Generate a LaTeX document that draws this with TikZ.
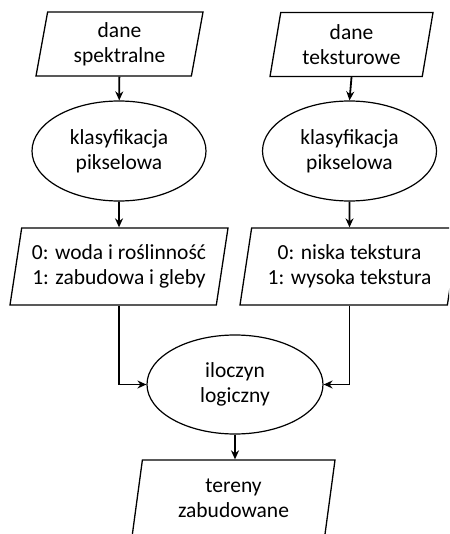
\documentclass[tikz,border=0pt]{standalone}
\usepackage{fontspec}
\setmainfont{Carlito}
\usetikzlibrary{shapes.geometric,arrows.meta}

\begin{document}
\begin{tikzpicture}[x=1pt,y=1pt,
    every node/.style={font=\fontsize{21.5}{25}\selectfont, align=center, inner sep=0pt},
    dane/.style={trapezium, trapezium left angle=75, trapezium right angle=105,
        trapezium stretches body, draw, line width=1.3pt},
    proces/.style={ellipse, draw, line width=1.2pt, minimum width=174pt, minimum height=100pt},
    strz/.style={-{Stealth[length=9pt,width=8pt]}, line width=1.8pt}]
    \useasboundingbox (0,0) rectangle (449,-534);
    \clip (0,0) rectangle (449,-534);
    \node [dane, minimum width=167pt, minimum height=64pt] (spektr) at (119.5,-44) {dane\\spektralne};
    \node [dane, minimum width=163pt, minimum height=64pt] (tekst) at (351.5,-44.5) {dane\\teksturowe};
    \node [proces] (klas1) at (119,-151) {klasyfikacja\\pikselowa};
    \node [proces] (klas2) at (349.5,-151) {klasyfikacja\\pikselowa};
    \node [dane, minimum width=218pt, minimum height=77pt] (wyn1) at (119,-266.5) {0: woda i roślinność\\1: zabudowa i gleby};
    \node [dane, minimum width=219pt, minimum height=77pt] (wyn2) at (349.5,-266.5) {0: niska tekstura\\1: wysoka tekstura};
    \node [proces, minimum width=176pt, minimum height=99pt] (iloczyn) at (235,-384.5) {iloczyn\\logiczny};
    \node [dane, minimum width=203pt, minimum height=77pt] (tereny) at (233.5,-498.5) {tereny\\zabudowane};
    \draw [strz] (spektr) -- (klas1);
    \draw [strz] (tekst.south) -- (klas2.north);
    \draw [strz] (klas1) -- (wyn1);
    \draw [strz] (klas2) -- (wyn2);
    \draw [strz] (wyn1.south) |- (iloczyn.west);
    \draw [strz] (wyn2.south) |- (iloczyn.east);
    \draw [strz] (iloczyn.south) -- (iloczyn.south |- tereny.north);
\end{tikzpicture}
\end{document}
